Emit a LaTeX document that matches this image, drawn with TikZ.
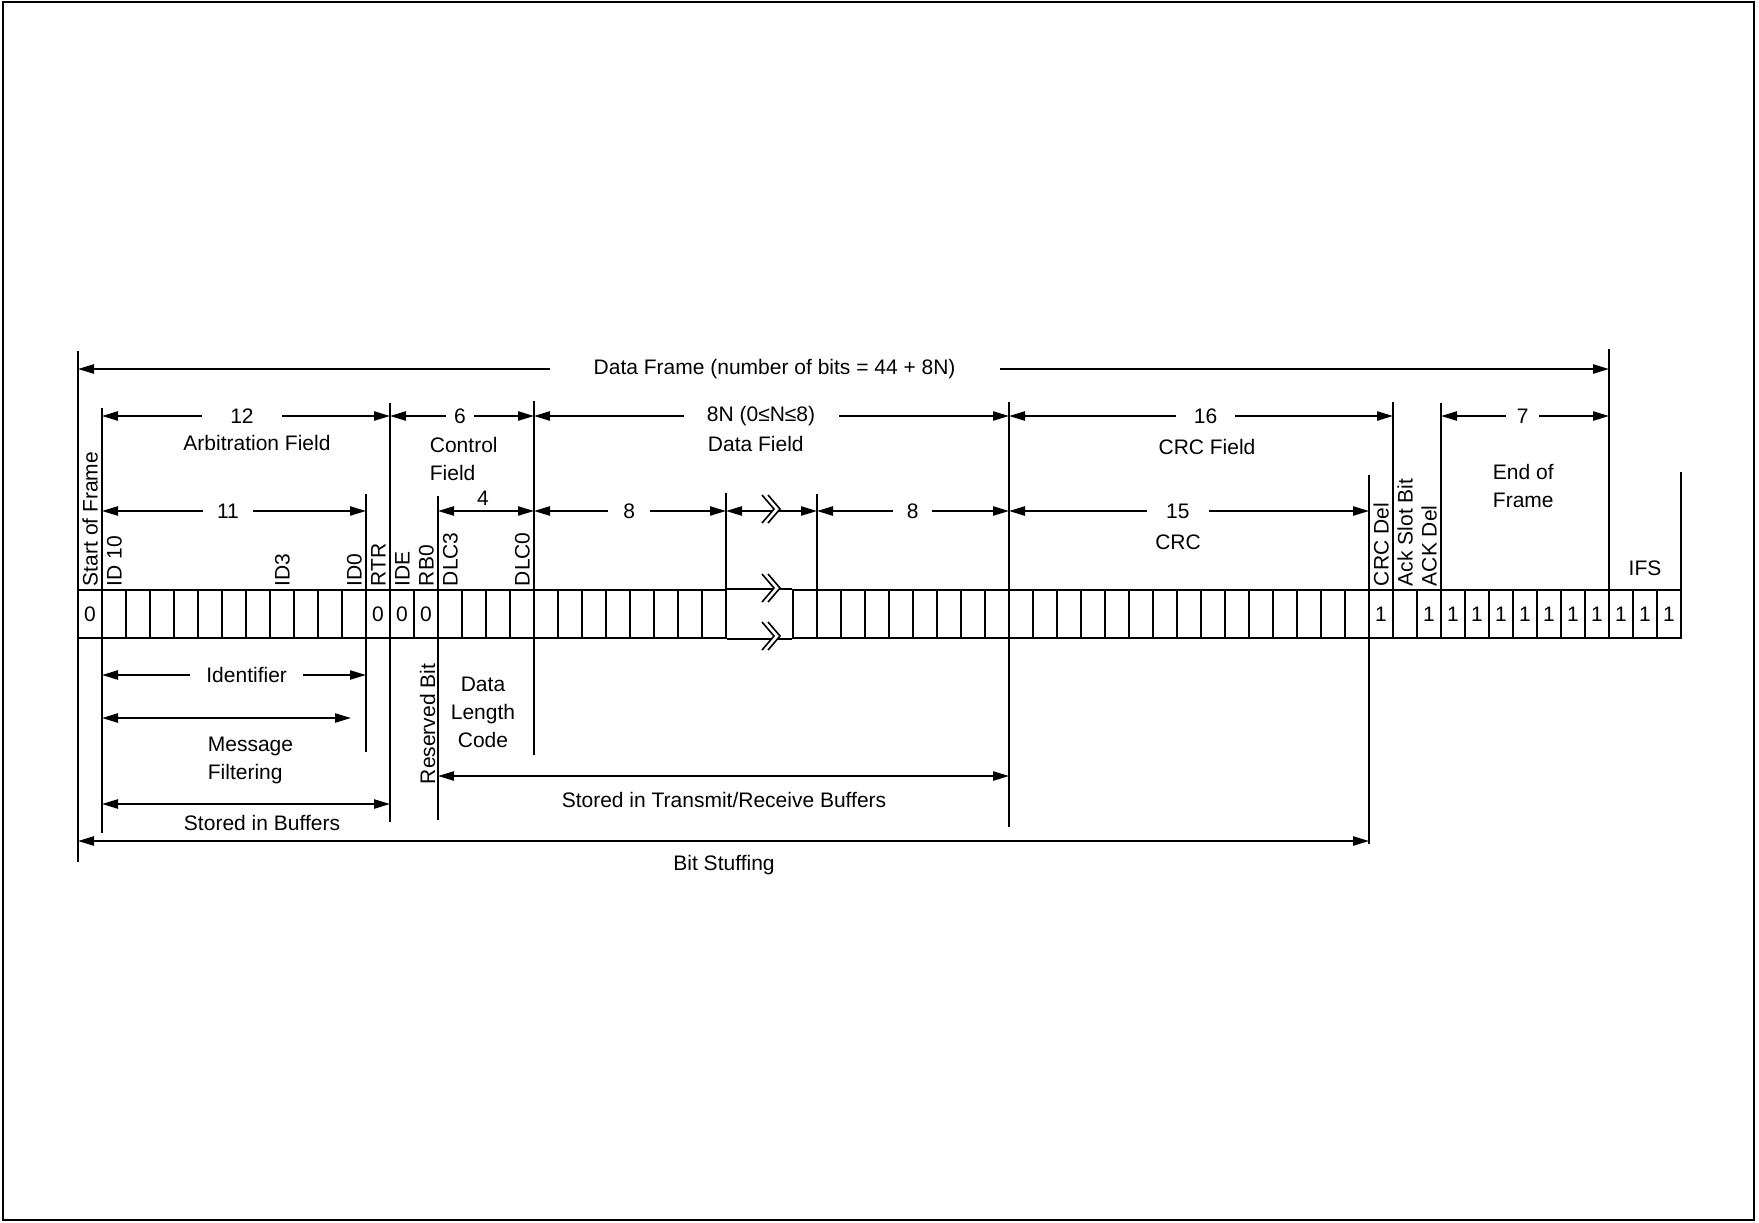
\documentclass[tikz,border=0pt]{standalone}
\usepackage{fontspec}
\setmainfont{Liberation Sans}
\usetikzlibrary{arrows.meta}

\begin{document}
\begin{tikzpicture}[
  x=0.5pt, y=-0.5pt,
  font=\fontsize{10.5pt}{14pt}\selectfont,
  line width=0.9pt,
  >={Triangle[length=8pt,width=4.6pt]},
  bitcell/.style={draw,minimum width=12pt,minimum height=24pt,inner sep=0pt},
  bitval/.style={inner sep=0pt},
  dimlbl/.style={fill=white,inner ysep=1pt},
  txt/.style={inner sep=0pt,anchor=base},
  blk/.style={inner sep=0pt,align=left,anchor=north west},
  vlbl/.style={inner sep=0pt,rotate=90,anchor=base west},
  brk/.pic={
    \fill[white] (-8,-16) -- (4,-2) -- (-8,12) -- (-2,12) -- (10,-2) -- (-2,-16) -- cycle;
    \draw[line width=0.8pt] (-8,-16) -- (4,-2) -- (-8,12);
    \draw[line width=0.8pt] (-2,-16) -- (10,-2) -- (-2,12);
  }
]
\useasboundingbox (0,0) rectangle (1759,1222);
\draw[line width=1pt] (3,2) rectangle (1754,1220);

% bit cells
\foreach \i in {0,...,26} \node[bitcell] (a\i) at (90+24*\i,614) {};
\foreach \j in {0,...,36} \node[bitcell] (b\j) at (805+24*\j,614) {};
\draw (a26.north east) -- (b0.north west);
\draw (a26.south east) -- (b0.south west);
\pic at (770,590) {brk};
\pic at (770,638) {brk};
\foreach \i in {0,12,13,14} \node[bitval] (va\i) at (a\i) {0};
\foreach \j in {24,26,27,...,36} \node[bitval] (vb\j) at (b\j) {1};

% extension lines
\foreach \x/\ya/\yb in {78/351/862, 102/408/833, 366/494/752, 390/403/822,
    438/496/820, 534/401/755, 726/493/590, 817/494/590, 1009/402/827,
    1369/475/844, 1393/402/590, 1441/403/590, 1609/349/590, 1681/472/590}
  \draw (\x,\ya) -- (\x,\yb);

% whole frame
\coordinate (dfL) at (78,369);
\coordinate (dfR) at (1609,369);
\draw[<->] (dfL) -- (dfR) node[dimlbl,pos=.455,inner xsep=22pt] (df) {Data Frame (number of bits = 44 + 8N)};

% fields
\coordinate (arbL) at (102,416);
\coordinate (arbR) at (390,416);
\coordinate (ctlR) at (534,416);
\coordinate (datR) at (1009,416);
\coordinate (crcfR) at (1393,416);
\coordinate (eofL) at (1441,416);
\coordinate (eofR) at (1609,416);
\draw[<->] (arbL) -- (arbR) node[dimlbl,pos=.486,inner xsep=14pt] (n12) {12};
\draw[<->] (arbR) -- (ctlR) node[dimlbl,pos=.486,inner xsep=4.3pt] (n6) {6};
\draw[<->] (ctlR) -- (datR) node[dimlbl,pos=.478,inner xsep=11.7pt] (n8n) {8N (0≤N≤8)};
\draw[<->] (datR) -- (crcfR) node[dimlbl,pos=.512,inner xsep=9pt] (n16) {16};
\draw[<->] (eofL) -- (eofR) node[dimlbl,pos=.486,inner xsep=5.2pt] (n7) {7};
\node[txt] (arb) at (257,450) {Arbitration Field};
\node[blk] (ctl) at (429,436) {Control\\Field};
\node[txt,anchor=base west] (dat) at (707,451.5) {Data Field};
\node[txt] (crcf) at (1207,454) {CRC Field};
\node[blk] (eof) at (1492,463) {End of\\Frame};

% sub-fields
\coordinate (idL) at (102,511);
\coordinate (idR) at (366,511);
\coordinate (dlcL) at (438,511);
\coordinate (dlcR) at (534,511);
\coordinate (d1R) at (726,511);
\coordinate (d2L) at (817,511);
\coordinate (d2R) at (1009,511);
\coordinate (crcR) at (1369,511);
\draw[<->] (idL) -- (idR) node[dimlbl,pos=.477,inner xsep=6.9pt] (n11) {11};
\draw[<->] (dlcL) -- (dlcR);
\node[txt] (n4) at (483,505) {4};
\draw[<->] (dlcR) -- (d1R) node[dimlbl,pos=.496,inner xsep=7.6pt] (n8a) {8};
\draw[<->] (d1R) -- (d2L);
\pic at (770,511) {brk};
\draw[<->] (d2L) -- (d2R) node[dimlbl,pos=.499,inner xsep=6.9pt] (n8b) {8};
\draw[<->] (d2R) -- (crcR) node[dimlbl,pos=.469,inner xsep=9.5pt] (n15) {15};
\node[txt] (crc) at (1178,549) {CRC};
\node[txt] (ifs) at (1645,575) {IFS};

% bit names
\foreach \x/\t in {102/Start of Frame, 126/ID 10, 294/ID3, 366/ID0, 390/RTR,
    414/IDE, 438/RB0, 462/DLC3, 534/DLC0, 1393/CRC Del, 1417/Ack Slot Bit, 1441/ACK Del}
  \node[vlbl] (r\x) at (\x-4.5,587) {\t};

% below the frame
\coordinate (idnL) at (102,675);
\coordinate (idnR) at (366,675);
\draw[<->] (idnL) -- (idnR) node[dimlbl,pos=.548,inner xsep=8pt] (idn) {Identifier};
\coordinate (mfL) at (102,718);
\coordinate (mfR) at (351,718);
\draw[<->] (mfL) -- (mfR);
\node[blk] (mf) at (207,736) {Message\\Filtering};
\coordinate (sbL) at (102,804);
\coordinate (sbR) at (390,804);
\draw[<->] (sbL) -- (sbR);
\node[txt] (sb) at (262,830) {Stored in Buffers};
\node[vlbl] (rsv) at (435,785) {Reserved Bit};
\node[blk,align=center,anchor=north] (dlc) at (483,676) {Data\\Length\\Code};
\coordinate (trL) at (438,776);
\coordinate (trR) at (1009,776);
\draw[<->] (trL) -- (trR);
\node[txt] (tr) at (724,807) {Stored in Transmit/Receive Buffers};
\coordinate (bsL) at (78,841);
\coordinate (bsR) at (1369,841);
\draw[<->] (bsL) -- (bsR);
\node[txt] (bs) at (724,870) {Bit Stuffing};
\end{tikzpicture}
\end{document}
